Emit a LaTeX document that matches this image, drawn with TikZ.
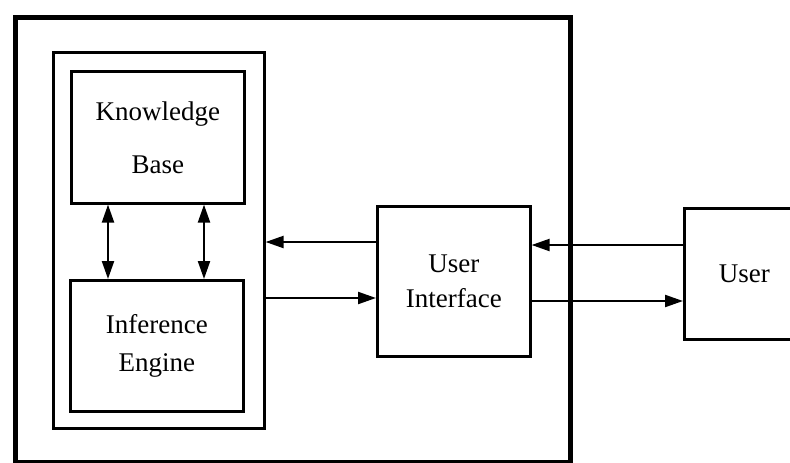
\documentclass[tikz,border=0pt]{standalone}
\usepackage{fontspec}
\setmainfont{Liberation Serif}
\usetikzlibrary{arrows.meta}
\begin{document}
\begin{tikzpicture}[x=1pt,y=-1pt,
  box/.style={draw,line width=2.6pt,rectangle,inner sep=0pt,anchor=north west,align=center,font=\fontsize{27}{31}\selectfont},
  arr/.style={line width=2.2pt,-{Triangle[length=18pt,width=12pt]}},
  darr/.style={line width=2.2pt,{Triangle[length=18pt,width=12pt]}-{Triangle[length=18pt,width=12pt]}}]
\useasboundingbox (0,0) rectangle (790,463);
\node[draw,line width=5pt,minimum width=555pt,minimum height=445pt,anchor=north west,inner sep=0pt] (outer) at (13,15) {};
\node[draw,line width=2.6pt,minimum width=211pt,minimum height=376pt,anchor=north west,inner sep=0pt] (inner) at (52,51) {};
\node[box,minimum width=173pt,minimum height=132pt] (kb) at (70,70) {Knowledge\\[22pt]Base};
\node[box,minimum width=173pt,minimum height=131pt] (ie) at (69,279) {Inference\\[7pt]Engine};
\node[box,minimum width=153pt,minimum height=150pt] (ui) at (376,205) {User\\[4pt]Interface};
\node[box,minimum width=120pt,minimum height=131pt] (user) at (683,207) {User};
\coordinate (a1) at (108,0);
\coordinate (a2) at (204,0);
\draw[darr] (kb.south -| a1) -- (ie.north -| a1);
\draw[darr] (kb.south -| a2) -- (ie.north -| a2);
\coordinate (r1) at (0,242);
\coordinate (r2) at (0,298);
\coordinate (r3) at (0,245);
\coordinate (r4) at (0,301);
\draw[arr] (ui.west |- r1) -- (inner.east |- r1);
\draw[arr] (inner.east |- r2) -- (ui.west |- r2);
\draw[arr] (user.west |- r3) -- (ui.east |- r3);
\draw[arr] (ui.east |- r4) -- (user.west |- r4);
\end{tikzpicture}
\end{document}
